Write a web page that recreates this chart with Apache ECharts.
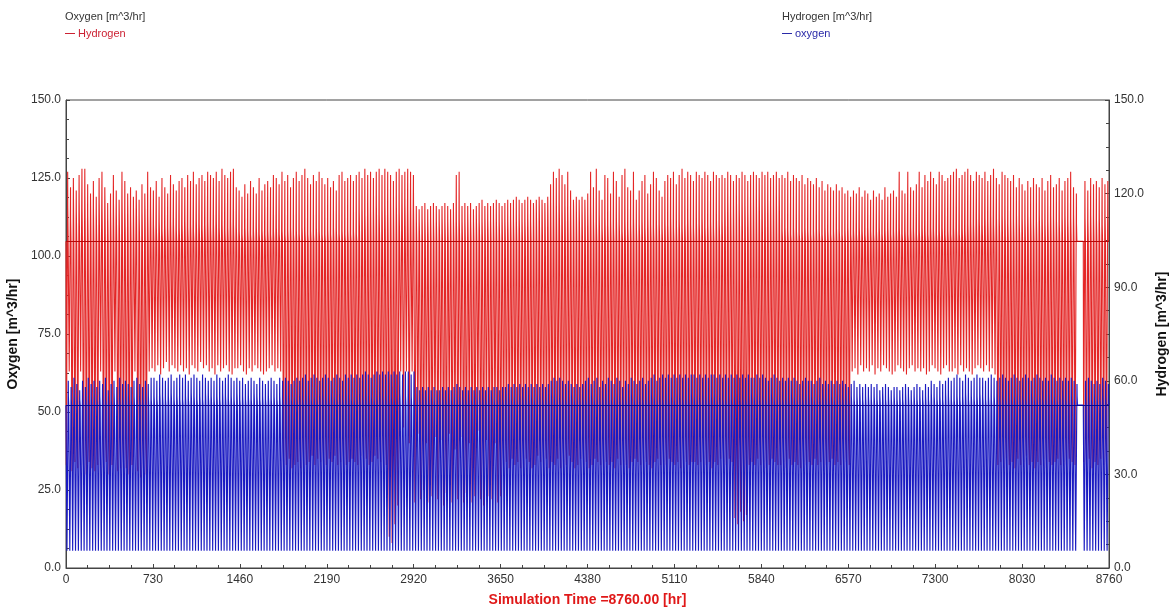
<!DOCTYPE html>
<html>
<head>
<meta charset="utf-8">
<script src="https://cdn.jsdelivr.net/npm/echarts@6/dist/echarts.min.js"></script>
<style>
html,body{margin:0;padding:0;background:#fff;}
#chart{width:1169px;height:608px;}
</style>
</head>
<body>
<div id="chart"></div>
<script>
// ---- Data (one entry per simulated day, 365 days) ----
const xTicks = [0, 730, 1460, 2190, 2920, 3650, 4380, 5110, 5840, 6570, 7300, 8030, 8760];
const leftTicks = [0, 25, 50, 75, 100, 125, 150];
const rightTicks = [0, 30, 60, 90, 120, 150];

// Hydrogen (red) – resting level, daily peak, daily shoulder, daily minimum
const redBase = 104.7;
const redPeak = [
127,122,125,121,126,128,128,123,120,124,
119,125,127,122,117,120,126,121,118,127,
124,120,122,119,121,118,123,120,127,122,
121,124,119,125,122,120,126,123,121,124,
125,122,126,124,127,123,125,126,124,127,
126,125,127,124,128,126,125,127,128,122,
121,119,123,120,124,122,120,125,121,123,
124,122,126,125,123,127,124,126,122,125,
127,124,126,128,125,123,126,124,127,125,
123,125,122,124,121,126,127,124,125,126,
124,126,127,125,128,126,127,125,127,128,
126,128,127,126,124,127,128,126,127,128,
127,126,116,115,116,117,115,116,117,116,
115,116,117,116,115,117,126,127,116,117,
116,117,115,116,117,118,116,117,116,117,
118,117,116,117,118,117,118,119,118,117,
118,119,118,117,118,119,118,117,119,123,
127,125,128,126,123,127,121,118,119,118,
119,118,120,127,122,128,121,118,126,125,
120,127,124,119,126,128,122,121,127,118,
121,124,126,120,123,127,125,121,119,124,
126,125,127,123,126,128,125,127,126,124,
127,126,125,127,126,124,127,126,125,126,
125,127,126,124,126,125,127,126,124,126,
127,126,125,127,126,127,125,126,127,125,
126,125,127,124,126,125,124,126,123,125,
124,123,125,122,124,121,123,122,121,123,
121,122,120,121,119,121,120,122,119,121,
120,118,121,119,120,118,122,119,120,121,
119,127,121,120,127,122,121,123,127,122,
126,124,127,125,123,127,126,124,125,126,
127,128,125,126,127,128,126,124,127,126,
125,127,124,126,128,125,123,127,126,125,
124,126,122,125,123,121,124,122,125,123,
122,125,121,124,126,122,123,125,121,124,
125,127,122,120,null,null,124,121,125,123,
124,122,125,123,124
];
const redShoulder = [
116,112,118,114,117,115,119,113,116,114,
113,117,115,118,112,114,116,113,115,117,
114,116,113,115,117,112,114,116,113,115,
110,109,111,108,110,109,111,110,108,109,
110,111,109,110,108,111,110,109,110,111,
109,110,111,109,110,108,109,111,110,109,
108,107,109,108,107,108,109,107,108,107,
108,107,108,109,107,108,107,108,109,107,
108,107,109,108,107,108,107,109,108,107,
107,108,107,109,108,107,108,107,108,107,
108,107,114,115,113,116,114,115,116,113,
115,116,114,117,115,116,114,117,116,115,
116,115,111,111,112,111,111,112,111,111,
111,112,111,111,112,111,111,112,111,111,
112,111,111,112,111,111,112,111,111,112,
111,111,112,111,111,112,111,111,112,111,
111,112,111,115,114,116,115,114,116,117,
118,116,117,115,116,114,115,116,114,115,
114,115,113,116,111,110,113,109,112,110,
111,109,112,110,108,111,109,110,112,109,
110,111,109,112,110,109,111,110,109,111,
110,112,109,110,111,109,110,112,110,109,
111,110,112,109,110,111,109,112,110,111,
115,117,114,116,118,115,117,116,114,117,
118,117,119,116,118,117,116,118,117,119,
108,109,108,107,109,108,107,108,109,108,
107,108,109,108,107,109,108,107,108,109,
108,107,108,109,107,108,107,109,108,107,
109,108,107,108,109,107,108,109,107,108,
108,109,107,108,107,109,108,107,108,109,
108,107,109,108,107,108,109,107,108,107,
109,108,107,109,108,110,111,110,112,111,
110,112,111,113,110,112,111,113,112,110,
112,111,113,110,112,111,113,112,110,111,
113,112,110,111,113,112,111,110,112,113,
111,112,113,110,null,null,112,111,113,112,
111,112,110,113,112
];
const redLow = [
33,63,31,34,32,63,33,30,34,32,
31,33,63,32,34,30,33,63,31,32,
34,32,30,33,63,31,29,32,30,63,
64,63,65,62,64,66,63,65,64,63,
65,63,64,62,65,64,63,66,64,65,
63,64,62,65,63,64,65,63,62,64,
64,65,63,62,64,63,65,64,63,62,
63,64,65,63,64,63,34,33,35,32,
33,34,32,35,33,34,36,33,35,34,
34,33,35,34,36,33,34,35,33,34,
35,34,33,36,34,35,33,34,36,35,
34,35,33,10,8,14,20,63,45,63,
40,63,21,43,22,25,40,21,23,42,
22,41,20,24,43,21,38,22,42,21,
24,40,21,23,44,22,20,41,23,22,
40,21,23,33,34,32,35,33,34,32,
33,35,34,32,33,36,34,33,35,32,
34,33,35,32,34,33,36,34,32,33,
35,33,34,32,33,35,34,33,32,34,
33,34,32,35,33,34,33,32,34,35,
34,33,35,34,33,32,34,35,33,34,
33,35,34,33,34,32,35,34,33,34,
34,33,34,35,33,34,32,34,33,35,
34,33,35,34,16,14,18,15,17,33,
34,33,35,33,34,32,33,35,34,33,
33,34,32,35,33,34,33,32,34,33,
34,33,35,33,34,32,33,34,35,33,
34,33,35,34,33,63,64,62,65,63,
64,63,65,62,64,63,65,64,63,62,
63,65,64,63,62,64,65,63,64,63,
64,62,63,65,64,63,62,64,65,63,
63,64,62,65,63,64,63,62,64,65,
64,63,65,63,64,62,33,34,32,35,
33,34,32,35,33,34,36,33,34,32,
34,33,35,32,34,33,34,35,33,34,
33,35,34,33,null,null,34,33,35,32,
34,33,35,33,34
];

// oxygen (blue) – resting level, daily peak, daily shoulder, daily minimum level
const blueBase = 52.2;
const blueLowLevel = 5.5;
const bluePeak = [
60,58,61,59,57,60,58,61,59,60,
58,60,59,61,57,59,60,58,61,59,
60,59,58,60,61,59,58,60,59,61,
61,60,62,61,60,61,62,60,61,62,
61,62,60,61,62,61,60,62,61,60,
61,60,62,61,60,61,62,61,60,61,
60,61,59,60,61,60,59,61,60,59,
60,61,60,59,61,60,61,60,59,60,
61,60,61,62,60,61,62,61,60,61,
62,61,60,61,62,61,60,62,61,62,
61,62,61,62,63,62,61,62,63,62,
63,62,63,62,63,62,63,62,63,63,
62,63,58,57,58,57,58,57,58,57,
57,58,57,58,57,58,59,58,57,58,
57,58,57,58,57,58,57,58,57,58,
58,57,58,58,59,58,59,58,59,58,
59,58,59,58,59,58,59,58,59,60,
61,60,61,60,59,60,59,58,59,58,
59,60,61,59,60,61,58,60,59,61,
60,59,61,60,58,60,59,61,60,59,
60,61,59,60,61,62,60,61,62,61,
62,61,62,61,62,61,62,61,62,62,
61,62,61,62,61,62,62,61,62,61,
62,61,62,61,62,61,62,61,62,61,
61,62,61,62,61,60,61,62,61,60,
61,60,61,60,61,60,59,60,61,60,
60,59,60,61,59,60,59,60,59,60,
59,60,59,58,59,60,58,59,58,59,
58,59,58,59,57,58,59,58,57,58,
58,57,58,59,58,57,58,59,58,57,
59,58,60,59,58,60,59,60,61,60,
61,62,61,60,62,61,60,61,62,61,
61,60,61,62,61,60,61,62,61,60,
61,62,61,60,61,62,61,60,61,62,
61,60,61,60,62,61,60,61,60,61,
60,61,60,59,null,null,60,61,60,59,
60,59,61,60,59
];
const blueShoulder = [
55,54,56,55,54,56,55,54,55,56,
54,55,56,54,55,54,56,55,54,55,
56,55,54,55,56,54,55,56,55,54,
55,54,56,55,54,55,56,54,55,54,
54,55,54,56,55,54,55,54,56,55,
55,54,55,54,56,55,54,55,54,56,
54,55,54,55,54,56,55,54,55,54,
55,54,55,54,55,54,56,55,54,55,
54,55,54,56,55,54,55,54,55,56,
55,54,56,55,54,55,54,56,55,54,
54,55,54,55,56,54,55,54,55,56,
55,56,54,55,54,55,56,54,55,54,
55,54,55,54,56,55,54,55,54,56,
54,55,54,55,54,56,55,54,55,54,
55,54,56,55,54,55,54,55,56,54,
54,55,54,56,55,54,55,54,55,55,
55,54,55,54,56,55,54,55,54,56,
56,55,54,55,54,55,56,54,55,54,
55,54,55,56,54,55,54,55,56,54,
54,55,56,54,55,54,55,56,54,55,
55,54,55,54,56,55,54,55,54,56,
54,55,54,56,55,54,55,54,56,55,
55,54,56,55,54,55,56,54,55,54,
54,55,54,55,56,54,55,54,55,56,
55,56,54,55,54,55,56,54,55,54,
54,55,54,56,55,54,55,54,56,55,
55,54,55,54,56,55,54,55,54,56,
54,55,56,54,55,54,55,56,54,55,
55,54,55,54,55,56,54,55,54,55,
54,55,54,56,55,54,55,54,55,54,
55,54,56,55,54,55,54,56,55,54,
54,55,54,55,56,54,55,54,55,56,
55,54,55,54,55,56,54,55,54,55,
54,55,56,54,55,54,55,56,54,55,
55,54,55,56,54,55,54,55,56,54,
54,55,54,55,null,null,54,55,54,56,
55,54,56,55,54
];

// ---- Build hourly traces: resting level with one daily excursion ----
function buildTrace(peak, shoulder, lowArr, lowConst, base, downHour, upHour) {
  const pts = [];
  for (let d = 0; d < peak.length; d++) {
    const t = d * 24;
    pts.push([t, base]);
    if (peak[d] == null) continue;
    const lo = lowArr ? lowArr[d] : lowConst;
    pts.push([t + downHour, base]);
    pts.push([t + downHour + 1, lo]);
    pts.push([t + upHour, lo]);
    pts.push([t + upHour + 1, peak[d]]);
    pts.push([t + upHour + 2, shoulder[d]]);
    pts.push([t + upHour + 4, shoulder[d]]);
    pts.push([t + upHour + 5, base]);
  }
  pts.push([8760, base]);
  return pts;
}
const redData = buildTrace(redPeak, redShoulder, redLow, null, redBase, 2, 13);
const blueData = buildTrace(bluePeak, blueShoulder, null, blueLowLevel, blueBase, 7, 18);

const FONT = 'Liberation Sans, Arial, sans-serif';
const axisCommon = {
  axisLine: {show: true, lineStyle: {color: '#444'}},
  axisTick: {show: true, inside: true, length: 4, lineStyle: {color: '#444'}},
  minorTick: {show: true, splitNumber: 4, length: 3, lineStyle: {color: '#444'}},
  splitLine: {show: false}
};
const chart = echarts.init(document.getElementById('chart'), null, {renderer: 'canvas'});
chart.setOption({
  animation: false,
  backgroundColor: '#fff',
  textStyle: {fontFamily: FONT},
  graphic: [
    {type: 'text', left: 65, top: 11, style: {text: 'Oxygen [m^3/hr]', fontSize: 11, fill: '#333', fontFamily: FONT}},
    {type: 'text', left: 782, top: 11, style: {text: 'Hydrogen [m^3/hr]', fontSize: 11, fill: '#333', fontFamily: FONT}}
  ],
  legend: [
    {data: ['Hydrogen'], left: 60, top: 23, icon: 'rect', itemWidth: 10, itemHeight: 1, itemGap: 4,
     itemStyle: {color: '#cc2233'},
     textStyle: {color: '#cc2233', fontSize: 11, fontFamily: FONT, padding: [0,0,0,-2]}},
    {data: ['oxygen'], left: 777, top: 23, icon: 'rect', itemWidth: 10, itemHeight: 1, itemGap: 4,
     itemStyle: {color: '#2a2aa8'},
     textStyle: {color: '#2a2aa8', fontSize: 11, fontFamily: FONT, padding: [0,0,0,-2]}}
  ],
  grid: {left: 66, right: 60, top: 100, bottom: 40, show: true, borderColor: '#444', borderWidth: 1,
         containLabel: false, outerBoundsMode: 'none'},
  xAxis: Object.assign({
    type: 'value', min: 0, max: 8760, interval: 730,
    name: 'Simulation Time =8760.00 [hr]', nameLocation: 'middle', nameGap: 25,
    nameTextStyle: {color: '#e01818', fontSize: 14, fontWeight: 'bold', fontFamily: FONT},
    axisLabel: {color: '#333', fontSize: 12, margin: 6, fontFamily: FONT, formatter: v => String(v)}
  }, axisCommon),
  yAxis: [
    Object.assign({
      type: 'value', min: 0, max: 150, interval: 25, position: 'left',
      name: 'Oxygen [m^3/hr]', nameLocation: 'middle', nameGap: 31, nameRotate: 90,
      nameTextStyle: {color: '#111', fontSize: 14, fontWeight: 'bold', fontFamily: FONT},
      axisLabel: {color: '#333', fontSize: 12, margin: 5, fontFamily: FONT, formatter: v => v.toFixed(1)}
    }, axisCommon),
    Object.assign({
      type: 'value', min: 0, max: 150, interval: 30, position: 'right',
      name: 'Hydrogen [m^3/hr]', nameLocation: 'middle', nameGap: 44, nameRotate: 90,
      nameTextStyle: {color: '#111', fontSize: 14, fontWeight: 'bold', fontFamily: FONT},
      axisLabel: {color: '#333', fontSize: 12, margin: 5, fontFamily: FONT, formatter: v => v.toFixed(1)}
    }, axisCommon)
  ],
  series: [
    {name: 'Hydrogen', type: 'line', yAxisIndex: 0, data: redData, showSymbol: false, symbol: 'none',
     sampling: null, color: '#e42626', lineStyle: {width: 1.1, color: '#e42626'}, z: 2,
     markLine: {silent: true, symbol: 'none', label: {show: false}, animation: false,
       lineStyle: {type: 'solid', width: 1, color: '#b80a0a'}, data: [{yAxis: redBase}]}},
    {name: 'oxygen', type: 'line', yAxisIndex: 1, data: blueData, showSymbol: false, symbol: 'none',
     sampling: null, color: '#1a1ac2', lineStyle: {width: 1.15, color: '#1a1ac2'}, z: 3,
     markLine: {silent: true, symbol: 'none', label: {show: false}, animation: false,
       lineStyle: {type: 'solid', width: 1, color: '#0a0a90'}, data: [{yAxis: blueBase}]}}
  ]
});
</script>
</body>
</html>
